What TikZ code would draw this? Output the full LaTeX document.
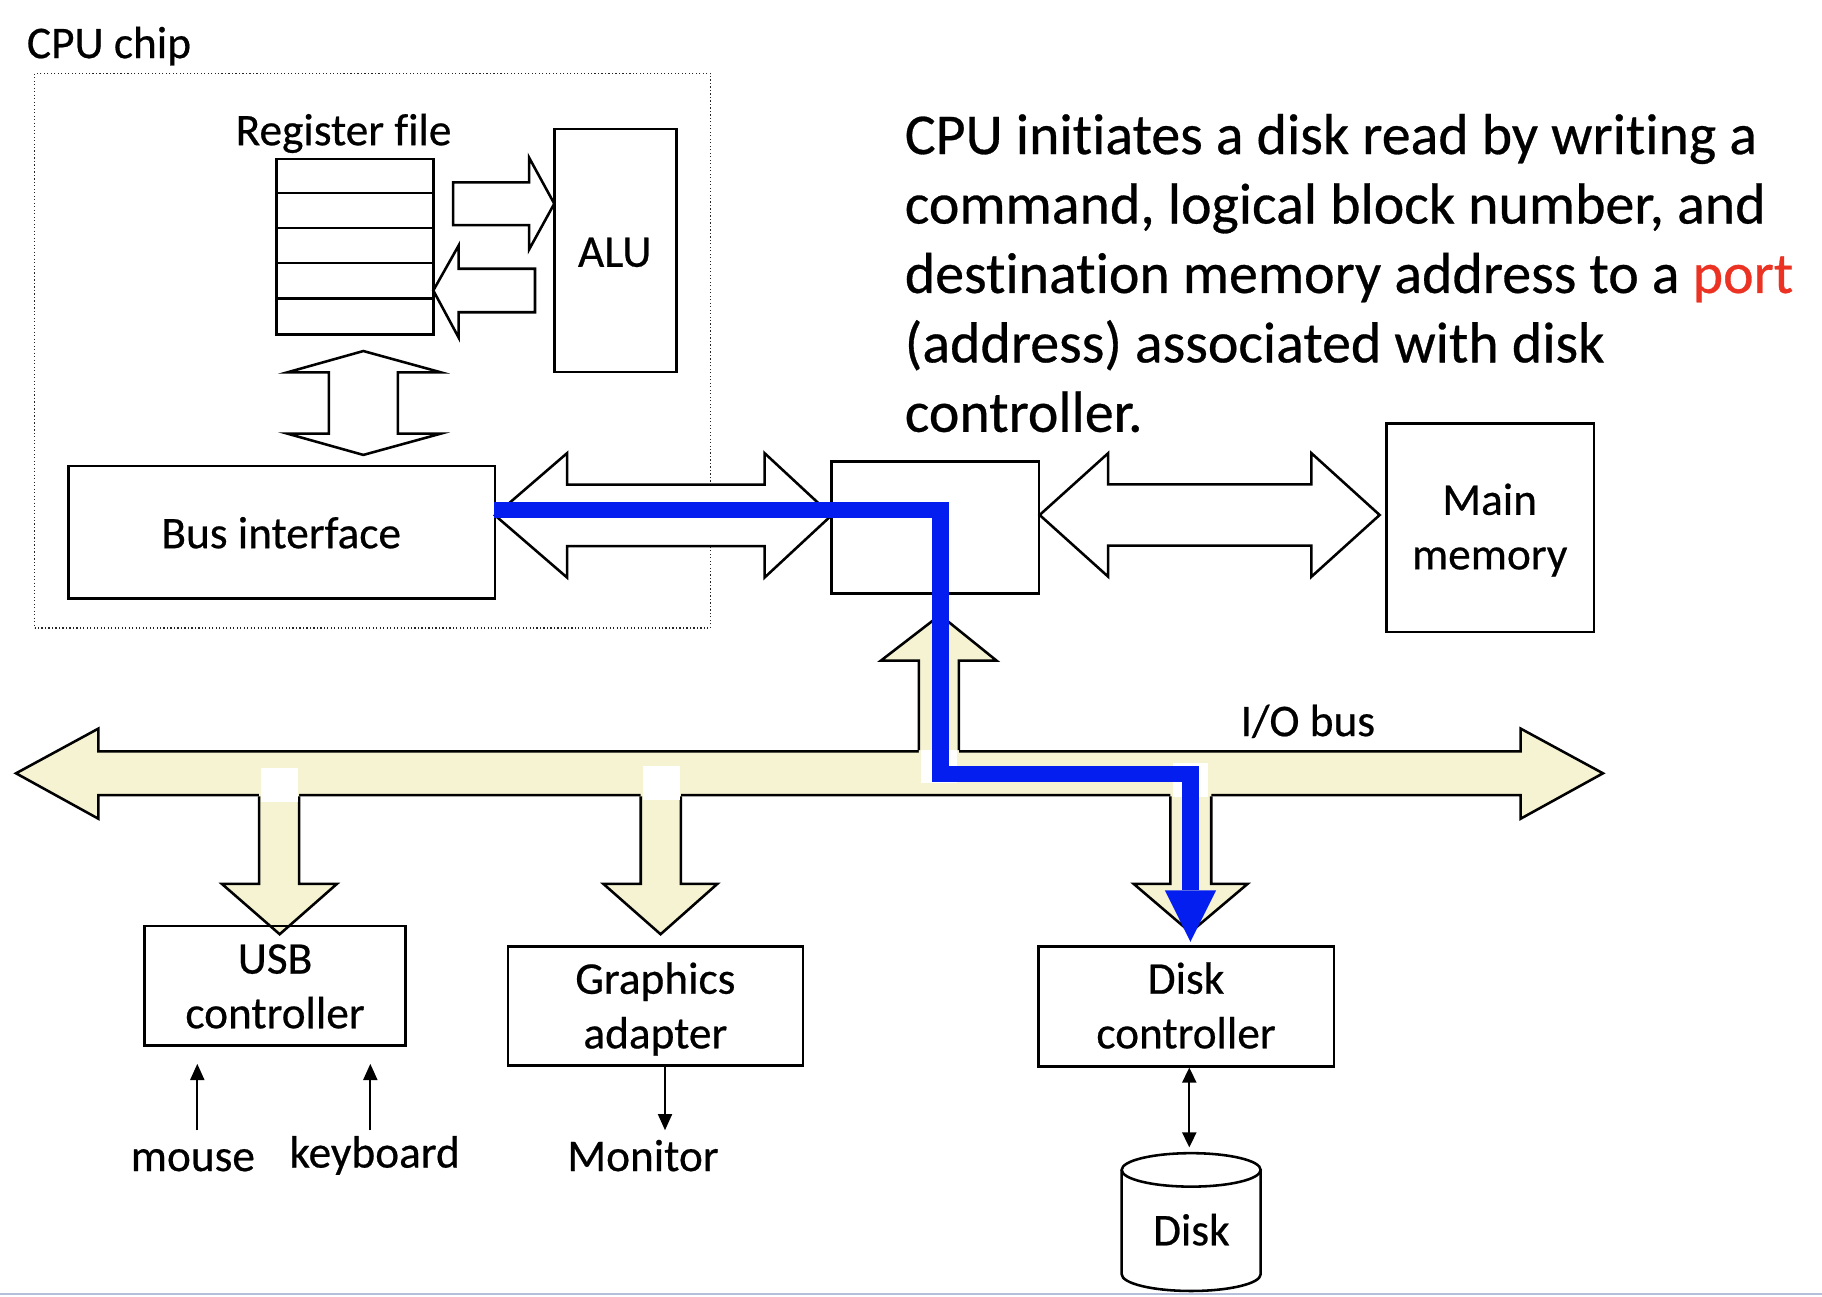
\documentclass[tikz,border=0pt]{standalone}
\usepackage{fontspec}
\setmainfont{Carlito}[FakeBold=0.5, Ligatures=NoCommon]
\usetikzlibrary{arrows.meta,calc}
\definecolor{cream}{RGB}{246,243,210}
\definecolor{pathblue}{RGB}{5,30,240}
\definecolor{portred}{RGB}{235,50,35}
\definecolor{lavender}{RGB}{180,192,218}
\begin{document}
\begin{tikzpicture}[x=1pt,y=1pt,
  box/.style={draw, line width=2.2pt, inner sep=0, rectangle},
  lbl/.style={font=\fontsize{39}{47}\selectfont, inner sep=0, align=center, anchor=base},
  blk/.style={draw, line width=2.2pt, fill=white, line join=miter},
  busfill/.style={fill=cream},
  busline/.style={draw, line width=2.2pt, line join=miter},
  patch/.style={fill=white},
  thinarrow/.style={line width=2pt, -{Triangle[width=12pt,length=14pt]}},
  boththin/.style={line width=2pt, {Triangle[width=12pt,length=13pt]}-{Triangle[width=12pt,length=13pt]}},
]
\useasboundingbox (0,0) rectangle (1568,-1115.33);
\fill[white] (0,0) rectangle (1568,-1115.33);

% CPU chip
\node[draw=black!85, dash pattern=on 1pt off 2pt, line width=1.2pt, minimum width=581.9, minimum height=477.1, inner sep=0] (chip) at (320.65,-301.95) {};
\node[lbl, anchor=base west] (chiplbl) at (23,-50) {CPU chip};

% register file
\node[box, minimum width=135, minimum height=151] (reg) at (305.5,-212.5) {};
\foreach \i in {1,...,4}
  \draw[line width=2.2pt] ($(reg.north west)+(0,-30.2*\i)$) -- ($(reg.north east)+(0,-30.2*\i)$);
\node[lbl] (reglbl) at (295.7,-125) {Register file};

% ALU
\node[box, minimum width=105, minimum height=209] (alu) at (529.5,-215.5) {};
\node[lbl] (alulbl) at (529,-229.6) {ALU};

% reg <-> ALU block arrows
\draw[blk] (390,-157) -- (455.3,-157) -- (455.3,-135.6) -- (477,-175.3) -- (455.3,-214.8) -- (455.3,-193.7) -- (390,-193.7) -- cycle;
\draw[blk] (460.4,-231.3) -- (394.7,-231.3) -- (394.7,-211.3) -- (372.9,-250) -- (394.7,-290.5) -- (394.7,-268.7) -- (460.4,-268.7) -- cycle;

% reg <-> bus interface
\draw[blk] (312.7,-302.1) -- (379.3,-320.4) -- (342.4,-320.4) -- (342.4,-373.2) -- (379.3,-373.2) -- (312.7,-391.5) -- (247.4,-373.2) -- (283,-373.2) -- (283,-320.4) -- (247.4,-320.4) -- cycle;

% bus interface
\node[box, minimum width=367, minimum height=114] (busif) at (242.5,-458) {};
\node[lbl] (busiflbl) at (242,-471.8) {Bus interface};

% bridge and main memory
\node[box, minimum width=178.4, minimum height=113.7] (bridge) at (804.8,-453.9) {};
\node[box, minimum width=178.7, minimum height=179.4] (mem) at (1282.4,-454) {};
\node[lbl] (memlbl) at (1282,-490) {Main\\memory};

% system bus and memory bus
\draw[blk] (426,-443.5) -- (488,-390) -- (488,-417) -- (658,-417) -- (658,-390) -- (715.6,-443.5) -- (658,-497) -- (658,-470) -- (488,-470) -- (488,-497) -- cycle;
\draw[blk] (894.7,-443.2) -- (953.7,-390) -- (953.7,-416.8) -- (1128.6,-416.8) -- (1128.6,-390) -- (1187.3,-443.2) -- (1128.6,-496.3) -- (1128.6,-469.6) -- (953.7,-469.6) -- (953.7,-496.3) -- cycle;

% text
\node[font=\fontsize{49.8}{59.75}\selectfont, align=left, anchor=base west, inner sep=0] (note) at (778.5,-371.6)
 {CPU initiates a disk read by writing a\\command, logical block number, and\\destination memory address to a {\color{portred}port}\\(address) associated with disk\\controller.};

% I/O bus
\draw[busfill, busline] (13.8,-665.5) -- (84.7,-627) -- (84.7,-646.6) -- (1308.6,-646.6) -- (1308.6,-627) -- (1379.5,-665.5) -- (1308.6,-704.6) -- (1308.6,-684.3) -- (84.7,-684.3) -- (84.7,-704.6) -- cycle;
\node[lbl] (iolbl) at (1125.5,-633.5) {I/O bus};

% up arrow to bridge
\fill[cream] (790.7,-648.8) -- (790.7,-568.6) -- (758,-568.6) -- (809,-529.3) -- (857.7,-568.6) -- (825.2,-568.6) -- (825.2,-648.8) -- cycle;
\draw[busline] (790.7,-645.5) -- (790.7,-568.6) -- (758,-568.6) -- (809,-529.3) -- (857.7,-568.6) -- (825.2,-568.6) -- (825.2,-645.5);

% down arrows
\foreach \l/\r/\wl/\wr/\t/\ty in {223/257.4/191/289.9/240.7/-804, 551.4/586/519.3/617.3/568.5/-804, 1007.2/1042.4/975.7/1073.6/1024.4/-802.3}{
  \fill[cream] (\l,-682.1) -- (\l,-760.7) -- (\wl,-760.7) -- (\t,\ty) -- (\wr,-760.7) -- (\r,-760.7) -- (\r,-682.1) -- cycle;
  \draw[busline] (\l,-685.4) -- (\l,-760.7) -- (\wl,-760.7) -- (\t,\ty) -- (\wr,-760.7) -- (\r,-760.7) -- (\r,-685.4);
}

% white patches
\fill[patch] (224.6,-660.7) rectangle (256.2,-690.2);
\fill[patch] (553,-658.8) rectangle (584.8,-688.3);
\fill[patch] (1009.5,-656.6) rectangle (1040,-686);
\fill[patch] (792.7,-645.5) rectangle (824,-674);

% I/O devices
\node[box, minimum width=224.8, minimum height=102.6] (usb) at (236.7,-848.3) {};
\node[lbl] (usblbl) at (236.7,-884.9) {USB\\controller};
\node[box, minimum width=254, minimum height=102.3] (gfx) at (564,-865.9) {};
\node[lbl] (gfxlbl) at (564,-902.2) {Graphics\\adapter};
\node[box, minimum width=254.5, minimum height=103.2] (dctl) at (1020.8,-866) {};
\node[lbl] (dctllbl) at (1020.7,-902.2) {Disk\\controller};

% disk cylinder
\node[inner sep=0, minimum width=119.6, minimum height=118.6] (disk) at (1025.1,-1051.7) {};
\fill[white] (965.3,-1006.8) -- (965.3,-1096.6) arc[start angle=180, end angle=360, x radius=59.8, y radius=14.4] -- (1084.9,-1006.8) -- cycle;
\draw[line width=2.2pt] (965.3,-1006.8) -- (965.3,-1096.6) arc[start angle=180, end angle=360, x radius=59.8, y radius=14.4] -- (1084.9,-1006.8);
\draw[line width=2.2pt, fill=white] (1025.1,-1006.8) ellipse [x radius=59.8, y radius=14.4];
\node[lbl] (disklbl) at (1025.3,-1071.7) {Disk};

% small labels
\node[lbl] (mouse) at (166,-1007.8) {mouse};
\node[lbl] (keyboard) at (322.4,-1004.8) {keyboard};
\node[lbl] (monitor) at (553.4,-1007.8) {Monitor};

% thin arrows
\coordinate (m1) at (169.8,-972.7);
\coordinate (k1) at (318.7,-972.7);
\coordinate (g1) at (572.3,-972.7);
\coordinate (d1) at (1023.5,-987.5);
\draw[thinarrow] (m1) -- ($(m1 |- usb.south)+(0,-14.8)$);
\draw[thinarrow] (k1) -- ($(k1 |- usb.south)+(0,-14.8)$);
\draw[thinarrow] (g1 |- gfx.south) -- (g1);
\draw[boththin] (d1 |- dctl.south) -- (d1);

% blue path
\coordinate (b0) at ($(busif.east)+(-1.6,19)$);
\coordinate (b1) at (809.3,-439);
\coordinate (b2) at (809.3,-666);
\coordinate (b3) at (1024.5,-666);
\coordinate (b4) at (1024.5,-766.3);
\coordinate (b5) at (1024.5,-810.5);
\draw[pathblue, line width=14.4pt, line join=miter] (b0) -- (b1) -- (b2) -- (b3) -- (b4);
\fill[pathblue] ($(b4)+(-22,0)$) -- ($(b4)+(22,0)$) -- (b5) -- cycle;

% bottom rule
\draw[lavender, line width=1.8pt] (0,-1113.3) -- (1568,-1113.3);
\end{tikzpicture}
\end{document}
